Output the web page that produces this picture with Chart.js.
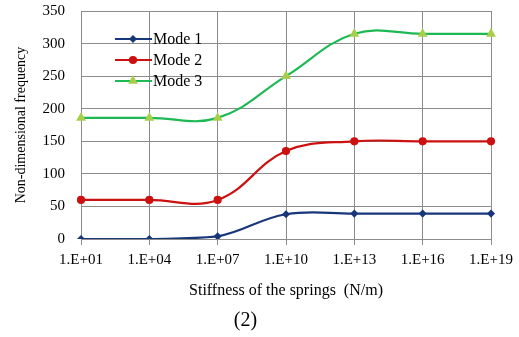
<!DOCTYPE html>
<html>
<head>
<meta charset="utf-8">
<script src="https://cdn.jsdelivr.net/npm/chart.js@4.4.0/dist/chart.umd.min.js"></script>
<style>
  html, body { margin: 0; padding: 0; background: #fff; }
  #wrap { width: 519px; height: 337px; }
</style>
</head>
<body>
<div id="wrap"><canvas id="modesChart" width="519" height="337"></canvas></div>
<script>
const stiffness = ['1.E+01', '1.E+04', '1.E+07', '1.E+10', '1.E+13', '1.E+16', '1.E+19'];
const mode1 = [0, 0, 4, 38, 39, 39, 39];
const mode2 = [60, 60, 60, 135, 150, 150, 150];
const mode3 = [186, 186, 186, 250, 315, 315, 315];
const yTicks = [0, 50, 100, 150, 200, 250, 300, 350];

const serif = '"Liberation Serif", "Times New Roman", serif';

// legend drawn inside the plot, top-left, like the Excel original
const insideLegend = {
  id: 'insideLegend',
  afterDraw(chart) {
    const ctx = chart.ctx;
    const area = chart.chartArea;
    const x0 = area.left + 34;
    const y0 = area.top + 28;
    ctx.save();
    chart.data.datasets.forEach((ds, i) => {
      const y = y0 + i * 21;
      ctx.strokeStyle = ds.borderColor;
      ctx.lineWidth = ds.borderWidth;
      ctx.beginPath();
      ctx.moveTo(x0, y);
      ctx.lineTo(x0 + 37, y);
      ctx.stroke();
      ctx.fillStyle = ds.backgroundColor;
      ctx.strokeStyle = ds.pointBorderColor || ds.borderColor;
      Chart.helpers.drawPoint(ctx, {
        pointStyle: ds.pointStyle,
        radius: ds.pointRadius,
        borderWidth: 1
      }, x0 + 18, y);
      ctx.fillStyle = '#000';
      ctx.font = '16px ' + serif;
      ctx.textBaseline = 'middle';
      ctx.textAlign = 'left';
      ctx.fillText(ds.label, x0 + 38, y + 1);
    });
    ctx.restore();
  }
};

const modesChart = new Chart(document.getElementById('modesChart'), {
  type: 'line',
  data: {
    labels: stiffness,
    datasets: [
      {
        label: 'Mode 1',
        data: mode1,
        borderColor: '#17377a',
        backgroundColor: '#17377a',
        pointStyle: 'rectRot',
        pointRadius: 2.5,
        borderWidth: 2.2,
      },
      {
        label: 'Mode 2',
        data: mode2,
        borderColor: '#cc1111',
        backgroundColor: '#cc1111',
        pointStyle: 'circle',
        pointRadius: 3,
        borderWidth: 2.2,
      },
      {
        label: 'Mode 3',
        data: mode3,
        borderColor: '#1db954',
        backgroundColor: '#a8cf4a',
        pointBorderColor: '#a8cf4a',
        pointStyle: 'triangle',
        pointRadius: 3.5,
        borderWidth: 2.2,
      }
    ]
  },
  options: {
    responsive: false,
    animation: false,
    devicePixelRatio: 1,
    elements: {
      line: { tension: 0.4 },
      point: { borderWidth: 1 }
    },
    layout: {
      padding: { left: 0, right: 28, top: 2, bottom: 0 }
    },
    plugins: {
      legend: { display: false },
      tooltip: { enabled: false },
      title: {
        display: true,
        position: 'bottom',
        text: '(2)',
        color: '#000',
        font: { family: serif, size: 20, weight: 'normal' },
        padding: { top: 6, bottom: 4 }
      }
    },
    scales: {
      x: {
        offset: false,
        grid: { color: '#8c8c8c', lineWidth: 1, offset: false, tickLength: 6 },
        border: { color: '#8c8c8c' },
        ticks: { color: '#000', font: { family: serif, size: 15 }, padding: 6, maxRotation: 0, autoSkip: false },
        title: {
          display: true,
          text: 'Stiffness of the springs  (N/m)',
          color: '#000',
          font: { family: serif, size: 16 },
          padding: { top: 4, bottom: 3 }
        },
        afterFit(scale) { scale.height = 64; }
      },
      y: {
        min: 0,
        max: 350,
        afterBuildTicks(scale) { scale.ticks = yTicks.map(v => ({ value: v })); },
        grid: { color: '#8c8c8c', lineWidth: 1, drawTicks: true, tickLength: 14, tickColor: 'rgba(0,0,0,0)' },
        border: { color: '#8c8c8c' },
        ticks: { color: '#000', font: { family: serif, size: 15 }, padding: 2 },
        title: {
          display: true,
          text: 'Non-dimensional frequency',
          color: '#000',
          font: { family: serif, size: 14 },
          padding: { top: 13, bottom: 4 }
        },
        afterFit(scale) { scale.width = 81; }
      }
    }
  },
  plugins: [insideLegend]
});
</script>
</body>
</html>
